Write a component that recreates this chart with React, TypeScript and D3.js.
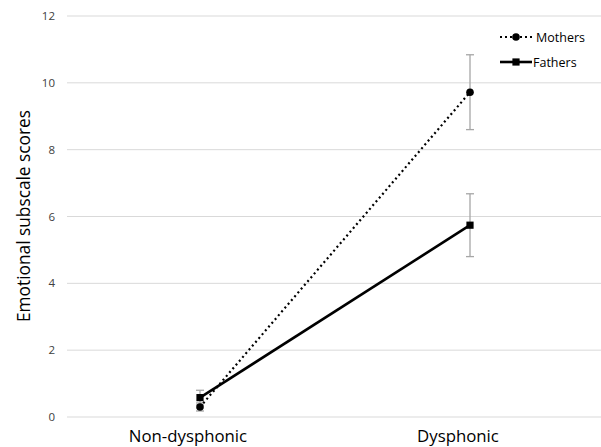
import {useEffect, useRef} from "react";
import * as d3 from "d3";

const groups = ["Non-dysphonic", "Dysphonic"];
const mothers = [0.3, 9.72];
const mothersErr = [0.12, 1.12];
const fathers = [0.58, 5.74];
const fathersErr = [0.22, 0.94];
const yTicks = [0, 2, 4, 6, 8, 10, 12];

const font = "'Open Sans', 'Noto Sans', sans-serif";

export default function App() {
    const ref = useRef<SVGSVGElement>(null);

    useEffect(() => {
        const svg = d3.select(ref.current);
        svg.selectAll("*").remove();

        const x = d3.scaleBand().domain(groups).range([65, 605]);
        const y = d3.scaleLinear().domain([0, 12]).range([417, 16]);
        const cx = (g: string) => (x(g) as number) + x.bandwidth() / 2;

        // gridlines
        svg.append("g")
            .selectAll("line")
            .data(yTicks)
            .enter().append("line")
            .attr("x1", 67).attr("x2", 601)
            .attr("y1", d => y(d)).attr("y2", d => y(d))
            .attr("stroke", "#d9d9d9").attr("stroke-width", 1);

        // y tick labels
        svg.append("g")
            .selectAll("text")
            .data(yTicks)
            .enter().append("text")
            .attr("x", 55).attr("y", d => y(d) + 4)
            .attr("text-anchor", "end")
            .attr("font-family", font).attr("font-size", 11.5).attr("fill", "#404040")
            .text(d => d);

        // y title
        svg.append("text")
            .attr("transform", "translate(30,216) rotate(-90)")
            .attr("text-anchor", "middle")
            .attr("font-family", font).attr("font-size", 17.3).attr("fill", "#000")
            .text("Emotional subscale scores");

        // category labels (sit a bit left of the data points, as in the source)
        svg.append("g")
            .selectAll("text")
            .data(groups)
            .enter().append("text")
            .attr("x", d => cx(d) - 12).attr("y", 442)
            .attr("text-anchor", "middle")
            .attr("font-family", font).attr("font-size", 16.8).attr("fill", "#000")
            .text(d => d);

        const series = [
            {name: "Mothers", vals: mothers, errs: mothersErr, dash: "2,3", marker: "circle"},
            {name: "Fathers", vals: fathers, errs: fathersErr, dash: null, marker: "square"},
        ];

        const line = d3.line<number>()
            .x((d, i) => cx(groups[i]))
            .y(d => y(d));

        // error bars
        series.forEach(s => {
            const g = svg.append("g").attr("stroke", "#a6a6a6").attr("stroke-width", 1.3);
            s.vals.forEach((v, i) => {
                const px = cx(groups[i]);
                const t = y(v + s.errs[i]), b = y(v - s.errs[i]);
                g.append("line").attr("x1", px).attr("x2", px).attr("y1", t).attr("y2", b);
                g.append("line").attr("x1", px - 4).attr("x2", px + 4).attr("y1", t).attr("y2", t);
                g.append("line").attr("x1", px - 4).attr("x2", px + 4).attr("y1", b).attr("y2", b);
            });
        });

        const drawMarker = (g: any, kind: string, px: number, py: number) => {
            if (kind === "circle") {
                g.append("circle").attr("cx", px).attr("cy", py).attr("r", 3.8).attr("fill", "#000");
            } else {
                g.append("rect").attr("x", px - 3.6).attr("y", py - 3.6)
                    .attr("width", 7.2).attr("height", 7.2).attr("fill", "#000");
            }
        };

        series.forEach(s => {
            const path = svg.append("path")
                .datum(s.vals)
                .attr("d", line)
                .attr("fill", "none")
                .attr("stroke", "#000")
                .attr("stroke-width", s.dash ? 2.2 : 2.6);
            if (s.dash) path.attr("stroke-dasharray", s.dash);
            const g = svg.append("g");
            s.vals.forEach((v, i) => drawMarker(g, s.marker, cx(groups[i]), y(v)));
        });

        // legend
        const legend = svg.append("g");
        series.forEach((s, i) => {
            const ly = 37 + i * 25;
            const l = legend.append("line")
                .attr("x1", 500).attr("x2", 532).attr("y1", ly).attr("y2", ly)
                .attr("stroke", "#000").attr("stroke-width", s.dash ? 2.2 : 2.6);
            if (s.dash) l.attr("stroke-dasharray", s.dash);
            drawMarker(legend, s.marker, 516, ly);
            legend.append("text")
                .attr("x", s.dash ? 536 : 533).attr("y", ly + 4.5)
                .attr("font-family", font).attr("font-size", 12.5).attr("fill", "#000")
                .text(s.name);
        });
    }, []);

    return (
        <svg ref={ref} width={601} height={447}
             style={{position: "absolute", left: 0, top: 0, background: "#fff"}}/>
    );
}
